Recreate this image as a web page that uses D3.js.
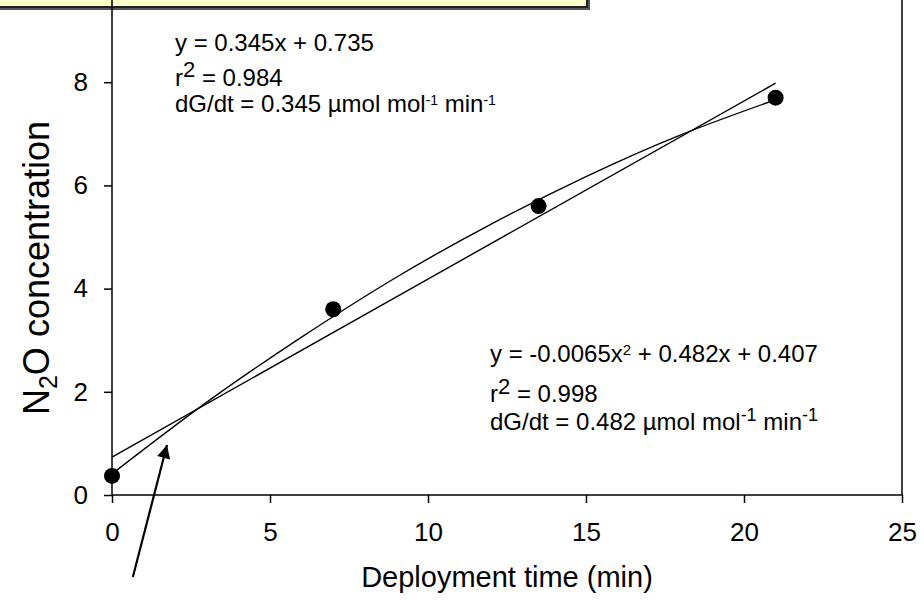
<!DOCTYPE html>
<html>
<head>
<meta charset="utf-8">
<script src="https://cdn.jsdelivr.net/npm/d3@7"></script>
<style>
  body { margin: 0; background: #fff; }
  svg { display: block; font-family: Arial, "Liberation Sans", sans-serif; }
</style>
</head>
<body>
<div id="wrapper"></div>
<script>
const w = 924
const h = 601

// measured points
const timeMin = [0, 7, 13.5, 21]
const n2o = [0.37, 3.6, 5.6, 7.7]

// fitted lines
const linX = [0, 21]
const linY = [0.735, 7.98]
const quadX = [0, 3, 6, 9, 12, 15, 18, 21]
const quadY = [0.41, 1.80, 3.06, 4.22, 5.25, 6.17, 6.98, 7.66]

// axis ticks
const xTicks = [0, 5, 10, 15, 20, 25]
const yTicks = [0, 2, 4, 6, 8]

// arrow, in data units: [tail, head]
const arrowX = [0.66, 1.74]
const arrowY = [-1.59, 0.97]

const svg = d3.select("#wrapper").append("svg")
  .attr("width", w)
  .attr("height", h)

const x = d3.scaleLinear().domain([0, 25]).range([112, 902])
const y = d3.scaleLinear().domain([0, 10]).range([495, -21])

// yellow note box sticking out of the top
svg.append("rect")
  .attr("x", -10).attr("y", -20)
  .attr("width", 600).attr("height", 30)
  .attr("fill", "#555")
svg.append("rect")
  .attr("x", -10).attr("y", -20)
  .attr("width", 597).attr("height", 27)
  .attr("fill", "#ffffcc")
  .attr("stroke", "#222")
  .attr("stroke-width", 2)

// frame
svg.append("rect")
  .attr("x", x(0)).attr("y", y(10))
  .attr("width", x(25) - x(0))
  .attr("height", y(0) - y(10))
  .attr("fill", "none")
  .attr("stroke", "#000")
  .attr("stroke-width", 1.5)

const xAxis = svg.append("g")
  .attr("transform", `translate(0,${y(0)})`)
  .call(d3.axisBottom(x).tickValues(xTicks).tickSize(8).tickPadding(20).tickSizeOuter(0))
const yAxis = svg.append("g")
  .attr("transform", `translate(${x(0)},0)`)
  .call(d3.axisLeft(y).tickValues(yTicks).tickSize(8).tickPadding(16).tickSizeOuter(0))

;[xAxis, yAxis].forEach(g => {
  g.select(".domain").remove()
  g.selectAll("line").attr("stroke", "#000").attr("stroke-width", 1.5)
  g.selectAll("text")
    .attr("fill", "#000")
    .style("font-family", "Arial, 'Liberation Sans', sans-serif")
    .style("font-size", "26px")
})

// axis titles
svg.append("text")
  .attr("x", (x(0) + x(25)) / 2)
  .attr("y", 587)
  .attr("text-anchor", "middle")
  .style("font-size", "29px")
  .text("Deployment time (min)")

const yTitle = svg.append("text")
  .attr("transform", "translate(49,268) rotate(-90)")
  .attr("text-anchor", "middle")
  .style("font-size", "36px")
yTitle.append("tspan").text("N")
yTitle.append("tspan").attr("dy", 8).style("font-size", "25px").text("2")
yTitle.append("tspan").attr("dy", -8).text("O concentration")

// fits
const lineGen = d3.line()
  .x(d => x(d[0]))
  .y(d => y(d[1]))

svg.append("path")
  .datum(d3.zip(linX, linY))
  .attr("d", lineGen)
  .attr("fill", "none")
  .attr("stroke", "#000")
  .attr("stroke-width", 1.4)

svg.append("path")
  .datum(d3.zip(quadX, quadY))
  .attr("d", lineGen.curve(d3.curveNatural))
  .attr("fill", "none")
  .attr("stroke", "#000")
  .attr("stroke-width", 1.4)

// points
svg.selectAll(".pt")
  .data(d3.zip(timeMin, n2o))
  .enter().append("circle")
  .attr("class", "pt")
  .attr("cx", d => x(d[0]))
  .attr("cy", d => y(d[1]))
  .attr("r", 8)
  .attr("fill", "#000")

// arrow
svg.append("defs").append("marker")
  .attr("id", "head")
  .attr("viewBox", "0 0 10 10")
  .attr("refX", 10).attr("refY", 5)
  .attr("markerWidth", 7).attr("markerHeight", 6)
  .attr("markerUnits", "strokeWidth")
  .attr("orient", "auto")
  .append("path")
  .attr("d", "M0,0 L10,5 L0,10 Z")
  .attr("fill", "#000")

svg.append("line")
  .attr("x1", x(arrowX[0])).attr("y1", y(arrowY[0]))
  .attr("x2", x(arrowX[1])).attr("y2", y(arrowY[1]))
  .attr("stroke", "#000")
  .attr("stroke-width", 2.2)
  .attr("marker-end", "url(#head)")

// equation notes
function note(xp, yp, parts, size) {
  const t = svg.append("text")
    .attr("x", xp).attr("y", yp)
    .style("font-size", size + "px")
  let shift = 0
  parts.forEach(p => {
    const up = p.sup || 0
    t.append("tspan")
      .attr("dy", shift - up)
      .style("font-size", (p.size || size) + "px")
      .text(p.t)
    shift = up
  })
}

note(175, 51, [{t: "y = 0.345x + 0.735"}], 24)
note(175, 86, [{t: "r"}, {t: "2", sup: 9, size: 22}, {t: " = 0.984"}], 24)
note(175, 112, [
  {t: "dG/dt = 0.345 µmol mol"}, {t: "-1", sup: 7, size: 14},
  {t: " min"}, {t: "-1", sup: 7, size: 14}
], 24)

note(490, 362, [
  {t: "y = -0.0065x"}, {t: "2", sup: 7, size: 15},
  {t: " + 0.482x + 0.407"}
], 24)
note(490, 402, [{t: "r"}, {t: "2", sup: 8, size: 22}, {t: " = 0.998"}], 24)
note(490, 430, [
  {t: "dG/dt = 0.482 µmol mol"}, {t: "-1", sup: 9, size: 18},
  {t: " min"}, {t: "-1", sup: 9, size: 18}
], 24)
</script>
</body>
</html>
